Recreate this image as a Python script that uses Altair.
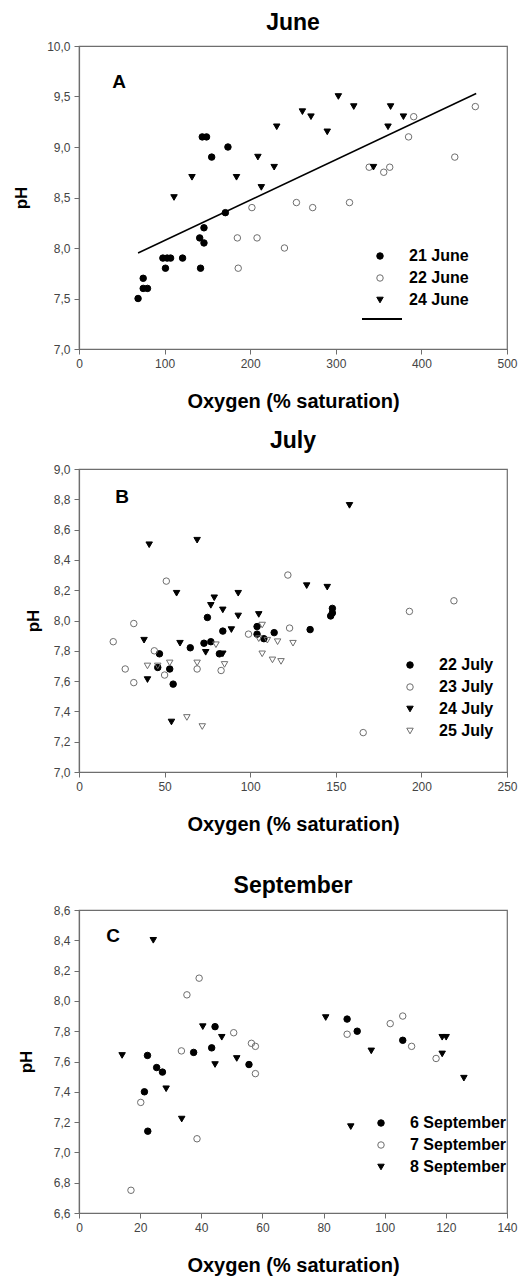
import altair as alt
import pandas as pd

# ---------------- Panel A: June ----------------
june_dates = ["21 June", "22 June", "24 June"]
j21_x = [69, 75, 75, 80, 98, 103, 107, 101, 121, 142, 141, 146, 146, 171, 144, 149, 155, 174]
j21_y = [7.5, 7.7, 7.6, 7.6, 7.9, 7.9, 7.9, 7.8, 7.9, 7.8, 8.1, 8.05, 8.2, 8.35, 9.1, 9.1, 8.9, 9.0]
j22_x = [202, 185, 208, 186, 254, 273, 316, 240, 391, 385, 463, 439, 339, 356, 363]
j22_y = [8.4, 8.1, 8.1, 7.8, 8.45, 8.4, 8.45, 8.0, 9.3, 9.1, 9.4, 8.9, 8.8, 8.75, 8.8]
j24_x = [111, 132, 184, 209, 213, 228, 231, 261, 271, 290, 303, 321, 364, 361, 379, 344]
j24_y = [8.5, 8.7, 8.7, 8.9, 8.6, 8.8, 9.2, 9.35, 9.3, 9.15, 9.5, 9.4, 9.4, 9.2, 9.3, 8.8]
fit_x = [69, 464]
fit_y = [7.95, 9.53]

# ---------------- Panel B: July ----------------
july_dates = ["22 July", "23 July", "24 July", "25 July"]
jl22_x = [47, 46, 53, 55, 65, 75, 73, 77, 82, 84, 104, 104, 108, 114, 135, 148, 148, 147]
jl22_y = [7.78, 7.69, 7.68, 7.58, 7.82, 8.02, 7.85, 7.86, 7.78, 7.93, 7.96, 7.91, 7.88, 7.92, 7.94, 8.08, 8.05, 8.03]
jl23_x = [20, 32, 27, 32, 44, 50, 51, 69, 83, 99, 122, 123, 193, 219, 166]
jl23_y = [7.86, 7.98, 7.68, 7.59, 7.80, 7.64, 8.26, 7.68, 7.67, 7.91, 8.30, 7.95, 8.06, 8.13, 7.26]
jl24_x = [41, 69, 57, 38, 40, 54, 59, 74, 77, 79, 84, 84, 89, 93, 93, 105, 158, 133, 145]
jl24_y = [8.50, 8.53, 8.18, 7.87, 7.61, 7.33, 7.85, 7.79, 8.10, 8.15, 8.07, 7.78, 7.94, 8.18, 8.03, 8.04, 8.76, 8.23, 8.22]
jl25_x = [40, 46, 53, 69, 80, 85, 63, 72, 107, 105, 110, 116, 125, 107, 113, 118]
jl25_y = [7.70, 7.70, 7.72, 7.72, 7.84, 7.71, 7.36, 7.30, 7.97, 7.88, 7.87, 7.86, 7.85, 7.78, 7.74, 7.73]

# ---------------- Panel C: September ----------------
sep_dates = ["6 September", "7 September", "8 September"]
s6_x = [22.4, 21.4, 22.5, 25.4, 27.3, 37.5, 43.4, 44.5, 55.6, 87.7, 91, 105.9]
s6_y = [7.64, 7.40, 7.14, 7.56, 7.53, 7.66, 7.69, 7.83, 7.58, 7.88, 7.80, 7.74]
s7_x = [39.3, 35.3, 33.5, 50.6, 56.4, 57.7, 57.7, 20.2, 38.6, 17, 87.7, 101.8, 105.9, 108.8, 116.8]
s7_y = [8.15, 8.04, 7.67, 7.79, 7.72, 7.70, 7.52, 7.33, 7.09, 6.75, 7.78, 7.85, 7.90, 7.70, 7.62]
s8_x = [14.1, 24.3, 28.5, 33.6, 40.5, 46.7, 44.5, 51.6, 80.7, 95.6, 88.9, 118.8, 120.1, 118.8, 125.9]
s8_y = [7.64, 8.40, 7.42, 7.22, 7.83, 7.76, 7.58, 7.62, 7.89, 7.67, 7.17, 7.76, 7.76, 7.65, 7.49]

FONT = "Liberation Sans"
GRAY = "#6e6e6e"
W, H = 428, 303


def build_df(labels, xs_list, ys_list):
    rows = []
    for lab, xs, ys in zip(labels, xs_list, ys_list):
        for x, y in zip(xs, ys):
            rows.append({"oxygen": x, "pH": y, "date": lab})
    return pd.DataFrame(rows)


def panel(df, dates, shapes, fills, strokes, xdom, xvals, ydom, yvals,
          title, toffset, letter, lx, ly, legx, legy, ph_x, fit=None):
    leg = alt.Legend(orient="none", legendX=legx, legendY=legy, title=None,
                     symbolSize=42, symbolStrokeWidth=1, labelOffset=21,
                     rowPadding=6, padding=0, labelFont=FONT, labelFontSize=16,
                     labelFontWeight="bold", labelColor="black")
    x_enc = alt.X("oxygen:Q",
                  scale=alt.Scale(domain=xdom, nice=False, zero=False),
                  axis=alt.Axis(values=xvals, title="Oxygen (% saturation)",
                                labelFlush=False, titleY=52, titleBaseline="middle"))
    y_enc = alt.Y("pH:Q",
                  scale=alt.Scale(domain=ydom, nice=False, zero=False),
                  axis=alt.Axis(values=yvals, title="pH", labelFlush=False,
                                labelExpr="replace(format(datum.value, '.1f'), '.', ',')",
                                titleX=ph_x, titleY=H / 2, titleAngle=270,
                                titleBaseline="middle", titleAlign="center"))
    pts = alt.Chart(df).mark_point(filled=True, size=42, strokeWidth=1, opacity=1).encode(
        x=x_enc,
        y=y_enc,
        shape=alt.Shape("date:N", scale=alt.Scale(domain=dates, range=shapes), legend=leg),
        fill=alt.Fill("date:N", scale=alt.Scale(domain=dates, range=fills), legend=leg),
        stroke=alt.Stroke("date:N", scale=alt.Scale(domain=dates, range=strokes), legend=leg),
    )
    layers = [pts]
    if fit is not None:
        fdf = pd.DataFrame({"oxygen": fit[0], "pH": fit[1], "fit": ["fit", "fit"]})
        line = alt.Chart(fdf).mark_line(strokeWidth=1.5).encode(
            x="oxygen:Q", y="pH:Q",
            color=alt.Color("fit:N", scale=alt.Scale(range=["black"]),
                            legend=alt.Legend(orient="none", legendX=282, legendY=252,
                                              title=None, symbolType="stroke",
                                              symbolSize=1600, symbolStrokeWidth=2,
                                              labelExpr="''", padding=0)),
        )
        layers.append(line)
    txt = alt.Chart(pd.DataFrame({"letter": [letter]})).mark_text(
        font=FONT, fontSize=19, fontWeight="bold", align="center", baseline="middle",
        color="black").encode(text="letter:N", x=alt.value(lx), y=alt.value(ly))
    layers.append(txt)
    return alt.layer(*layers).resolve_scale(color="independent").properties(
        width=W, height=H,
        title=alt.TitleParams(title, offset=toffset, frame="group"),
    )


def spacer(h):
    return alt.Chart(pd.DataFrame({"s": [0]})).mark_point(opacity=0).properties(
        width=W, height=h, view=alt.ViewBackground(stroke="transparent"))


dfA = build_df(june_dates, [j21_x, j22_x, j24_x], [j21_y, j22_y, j24_y])
dfB = build_df(july_dates, [jl22_x, jl23_x, jl24_x, jl25_x], [jl22_y, jl23_y, jl24_y, jl25_y])
dfC = build_df(sep_dates, [s6_x, s7_x, s8_x], [s6_y, s7_y, s8_y])

A = panel(dfA, june_dates, ["circle", "circle", "triangle-down"],
          ["black", "transparent", "black"], ["black", GRAY, "black"],
          [0, 500], [0, 100, 200, 300, 400, 500],
          [7.0, 10.0], [7.0, 7.5, 8.0, 8.5, 9.0, 9.5, 10.0],
          "June", 5, "A", 40, 36, 293, 202, -58, fit=(fit_x, fit_y))
B = panel(dfB, july_dates, ["circle", "circle", "triangle-down", "triangle-down"],
          ["black", "transparent", "black", "transparent"], ["black", GRAY, "black", GRAY],
          [0, 250], [0, 50, 100, 150, 200, 250],
          [7.0, 9.0], [7.0, 7.2, 7.4, 7.6, 7.8, 8.0, 8.2, 8.4, 8.6, 8.8, 9.0],
          "July", 10, "B", 43, 28, 323, 188, -46)
C = panel(dfC, sep_dates, ["circle", "circle", "triangle-down"],
          ["black", "transparent", "black"], ["black", GRAY, "black"],
          [0, 140], [0, 20, 40, 60, 80, 100, 120, 140],
          [6.6, 8.6], [6.6, 6.8, 7.0, 7.2, 7.4, 7.6, 7.8, 8.0, 8.2, 8.4, 8.6],
          "September", 6, "C", 34, 26, 294, 205, -53)

ind = dict(shape="independent", fill="independent", stroke="independent", color="independent")
chart = alt.vconcat(A, spacer(120), B, spacer(138), C, spacing=0, bounds="flush").resolve_scale(
    **ind).resolve_legend(**ind).properties(
    padding={"left": 3, "top": 3, "right": 0, "bottom": 0},
).configure_view(stroke=GRAY, strokeWidth=1.2).configure_axis(
    grid=False, domainColor=GRAY, tickColor=GRAY, domainWidth=1.2, tickWidth=1,
    tickSize=5, labelPadding=4, labelFont=FONT, labelFontSize=12, labelColor="#444",
    titleFont=FONT, titleFontWeight="bold", titleColor="black", titleFontSize=20,
).configure_axisY(titleFontSize=17).configure_title(
    font=FONT, fontSize=23, fontWeight="bold", color="black", anchor="middle",
    baseline="alphabetic",
)

chart.save("out.html", embed_options={"renderer": "svg", "actions": False})
